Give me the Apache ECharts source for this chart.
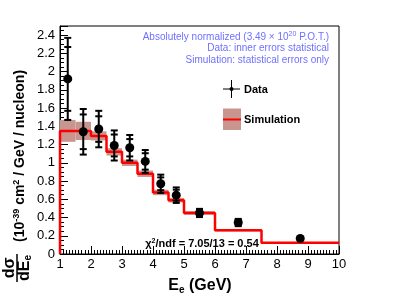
<!DOCTYPE html>
<html><head><meta charset="utf-8">
<script src="https://cdn.jsdelivr.net/npm/echarts@6/dist/echarts.min.js"></script>
<style>html,body{margin:0;padding:0;background:#fff}#c{width:399px;height:299px}</style>
</head><body><div id="c"></div>
<script>
// ---- data ----
const binEdges = [1, 1.5, 2, 2.5, 3, 3.5, 4, 4.5, 5, 6, 7.5, 10];
const simValues = [1.35, 1.35, 1.295, 1.12, 1.0, 0.88, 0.675, 0.59, 0.45, 0.26, 0.122];
const simErrors = [0.12, 0.10, 0.05, 0.04, 0.035, 0.035, 0.03, 0.025, 0.02, 0.012, 0.006];
const dataX = [1.25, 1.75, 2.25, 2.75, 3.25, 3.75, 4.25, 4.75, 5.5, 6.75, 8.75];
const dataY = [1.92, 1.34, 1.37, 1.19, 1.165, 1.015, 0.77, 0.645, 0.45, 0.345, 0.17];
const dataErrInner = [0.35, 0.19, 0.14, 0.12, 0.095, 0.09, 0.07, 0.06, 0.03, 0.025, 0.006];
const dataErrOuter = [0.45, 0.25, 0.20, 0.165, 0.14, 0.125, 0.10, 0.085, 0.045, 0.04, 0.01];
const xTicks = [1, 2, 3, 4, 5, 6, 7, 8, 9, 10];

// ---- build series data ----
const bandData = simValues.map((v, i) => [binEdges[i], binEdges[i + 1], v, simErrors[i]]);
const stepData = [[binEdges[0], 0]];
simValues.forEach((v, i) => { stepData.push([binEdges[i], v]); stepData.push([binEdges[i + 1], v]); });
const errData = dataX.map((x, i) => [x, dataY[i], dataErrInner[i], dataErrOuter[i]]);
const ptData = dataX.map((x, i) => [x, dataY[i]]);

const FONT = '"Liberation Sans", Arial, Helvetica, sans-serif';
const chart = echarts.init(document.getElementById('c'), null, { renderer: 'canvas' });

chart.setOption({
  animation: false,
  backgroundColor: '#fff',
  grid: { left: 60, right: 60, top: 26, bottom: 45, show: true, borderColor: '#000', borderWidth: 1, backgroundColor: 'transparent' },
  xAxis: {
    type: 'value', min: xTicks[0], max: xTicks[xTicks.length - 1], interval: 1,
    axisLine: { lineStyle: { color: '#000', width: 1 } },
    axisTick: { inside: true, length: 8, lineStyle: { color: '#000' } },
    minorTick: { show: true, splitNumber: 10, length: 4, lineStyle: { color: '#000' } },
    splitLine: { show: false },
    axisLabel: { color: '#000', fontSize: 13, fontFamily: FONT, margin: 4 }
  },
  yAxis: {
    type: 'value', min: 0, max: 2.5, interval: 0.2,
    axisLine: { lineStyle: { color: '#000', width: 1 } },
    axisTick: { inside: true, length: 8, lineStyle: { color: '#000' } },
    minorTick: { show: true, splitNumber: 4, length: 4, lineStyle: { color: '#000' } },
    splitLine: { show: false },
    axisLabel: { color: '#000', fontSize: 13, fontFamily: FONT, margin: 5, showMaxLabel: false,
      formatter: v => (Math.round(v * 10) / 10).toString() }
  },
  series: [
    {
      type: 'custom', data: bandData, z: 1,
      renderItem: (params, api) => {
        const p1 = api.coord([api.value(0), api.value(2) + api.value(3)]);
        const p2 = api.coord([api.value(1), api.value(2) - api.value(3)]);
        return { type: 'rect', shape: { x: p1[0], y: p1[1], width: p2[0] - p1[0], height: p2[1] - p1[1] },
          style: { fill: '#c8958f' } };
      }
    },
    {
      type: 'line', data: stepData, z: 2, symbol: 'none', clip: true,
      lineStyle: { color: '#ff0000', width: 2.5 }
    },
    {
      type: 'custom', data: errData, z: 3,
      renderItem: (params, api) => {
        const x = api.value(0), y = api.value(1), ei = api.value(2), eo = api.value(3);
        const top = api.coord([x, y + eo]), bot = api.coord([x, y - eo]);
        const ti = api.coord([x, y + ei]), bi = api.coord([x, y - ei]);
        const hw = 3.5, st = { stroke: '#000', lineWidth: 2 };
        const cap = p => ({ type: 'line', shape: { x1: p[0] - hw, y1: p[1], x2: p[0] + hw, y2: p[1] }, style: st });
        return { type: 'group', children: [
          { type: 'line', shape: { x1: top[0], y1: top[1], x2: bot[0], y2: bot[1] }, style: st },
          cap(top), cap(bot), cap(ti), cap(bi)
        ] };
      }
    },
    {
      type: 'scatter', data: ptData, z: 4, symbol: 'circle', symbolSize: 9,
      itemStyle: { color: '#000', opacity: 1 }
    }
  ],
  graphic: [
    // y-axis title
    {
      type: 'group', x: 17, y: 268, rotation: Math.PI / 2,
      children: [
        { type: 'text', x: 0, y: -7, style: { text: 'dσ', font: 'bold 16px ' + FONT, fill: '#000', align: 'center', verticalAlign: 'middle' } },
        { type: 'line', shape: { x1: -14, y1: 0, x2: 14, y2: 0 }, style: { stroke: '#000', lineWidth: 1.5 } },
        { type: 'text', x: 0, y: 8, style: { text: 'dE{s|e}', font: 'bold 16px ' + FONT, fill: '#000', align: 'center', verticalAlign: 'middle',
          rich: { s: { font: 'bold 10px ' + FONT, verticalAlign: 'bottom', padding: [7, 0, 0, 0] } } } },
        { type: 'text', x: 26, y: 3, style: { text: '(10{p|-39} cm{p|2} / GeV / nucleon)', font: 'bold 14px ' + FONT, fill: '#000', align: 'left', verticalAlign: 'middle',
          rich: { p: { font: 'bold 9px ' + FONT, verticalAlign: 'top', padding: [0, 0, 7, 0] } } } }
      ]
    },
    // x-axis title
    { type: 'text', x: 200, y: 286, style: { text: 'E{s|e} (GeV)', font: 'bold 16px ' + FONT, fill: '#000', align: 'center', verticalAlign: 'middle',
      rich: { s: { font: 'bold 10px ' + FONT, padding: [8, 0, 0, 0] } } } },
    // annotations
    { type: 'text', x: 329, y: 37, style: { text: 'Absolutely normalized (3.49 × 10{p|20} P.O.T.)', font: '10px ' + FONT, fill: '#7070ff', align: 'right', verticalAlign: 'middle',
      rich: { p: { font: '7px ' + FONT, fill: '#7070ff', padding: [0, 0, 5, 0] } } } },
    { type: 'text', x: 329, y: 48, style: { text: 'Data: inner errors statistical', font: '10px ' + FONT, fill: '#7070ff', align: 'right', verticalAlign: 'middle' } },
    { type: 'text', x: 329, y: 60, style: { text: 'Simulation: statistical errors only', font: '10px ' + FONT, fill: '#7070ff', align: 'right', verticalAlign: 'middle' } },
    // legend
    { type: 'line', shape: { x1: 231.5, y1: 80, x2: 231.5, y2: 98 }, style: { stroke: '#000', lineWidth: 1 } },
    { type: 'line', shape: { x1: 223, y1: 89, x2: 240, y2: 89 }, style: { stroke: '#000', lineWidth: 1 } },
    { type: 'circle', shape: { cx: 231.5, cy: 89, r: 2 }, style: { fill: '#000' } },
    { type: 'text', x: 244, y: 90, style: { text: 'Data', font: 'bold 11px ' + FONT, fill: '#000', align: 'left', verticalAlign: 'middle' } },
    { type: 'rect', shape: { x: 223, y: 108.5, width: 18, height: 21.5 }, style: { fill: '#c8958f' } },
    { type: 'line', shape: { x1: 223, y1: 119.5, x2: 241, y2: 119.5 }, style: { stroke: '#ff0000', lineWidth: 2 } },
    { type: 'text', x: 244, y: 120, style: { text: 'Simulation', font: 'bold 11px ' + FONT, fill: '#000', align: 'left', verticalAlign: 'middle' } },
    // chi2
    { type: 'text', x: 202, y: 244, style: { text: 'χ{p|2}/ndf = 7.05/13 = 0.54', font: 'bold 11px ' + FONT, fill: '#000', align: 'center', verticalAlign: 'middle',
      rich: { p: { font: 'bold 7px ' + FONT, padding: [0, 0, 5, 0] } } } }
  ]
});
</script>
</body></html>
